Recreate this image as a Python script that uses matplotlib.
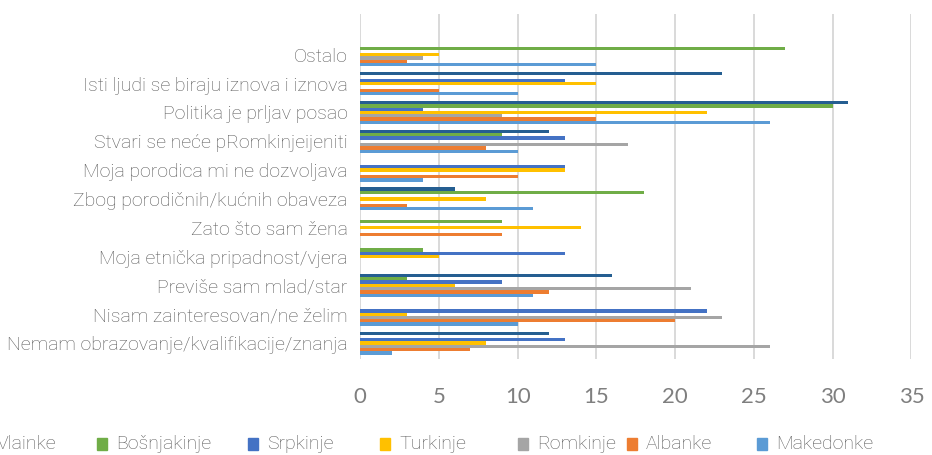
import matplotlib.pyplot as plt
import matplotlib.patches as mpatches
import numpy as np

# categories, top to bottom as shown
categories = [
    "Ostalo",
    "Isti ljudi se biraju iznova i iznova",
    "Politika je prljav posao",
    "Stvari se neće pRomkinjeijeniti",
    "Moja porodica mi ne dozvoljava",
    "Zbog porodičnih/kućnih obaveza",
    "Zato što sam žena",
    "Moja etnička pripadnost/vjera",
    "Previše sam mlad/star",
    "Nisam zainteresovan/ne želim",
    "Nemam obrazovanje/kvalifikacije/znanja",
]

series_names = ["Vlainke", "Bošnjakinje", "Srpkinje", "Turkinje",
                "Romkinje", "Albanke", "Makedonke"]

vlainke     = [0, 23, 31, 12, 0, 6, 0, 0, 16, 0, 12]
bosnjakinje = [27, 0, 30, 9, 0, 18, 9, 4, 3, 0, 0]
srpkinje    = [0, 13, 4, 13, 13, 0, 0, 13, 9, 22, 13]
turkinje    = [5, 15, 22, 0, 13, 8, 14, 5, 6, 3, 8]
romkinje    = [4, 0, 9, 17, 0, 0, 0, 0, 21, 23, 26]
albanke     = [3, 5, 15, 8, 10, 3, 9, 0, 12, 20, 7]
makedonke   = [15, 10, 26, 10, 4, 11, 0, 0, 11, 10, 2]

series = [vlainke, bosnjakinje, srpkinje, turkinje, romkinje, albanke, makedonke]
colors = ["#255E91", "#70AD47", "#4472C4", "#FFC000", "#A5A5A5", "#ED7D31", "#5B9BD5"]

label_font = "Roboto"
text_color = "#595959"

fig = plt.figure(figsize=(9.32, 4.55), dpi=100)
ax = fig.add_axes([0.3863, 0.2112, 0.5917, 0.7589])

n = len(categories)
ypos = np.arange(n)[::-1]  # Ostalo at top
h = 0.8 / len(series)
for j, (vals, c) in enumerate(zip(series, colors)):
    offset = (3 - j) * h
    ax.barh(ypos + offset, vals, height=h, color=c, zorder=3)

ax.set_xlim(0, 35)
ax.set_ylim(-0.55, 11.43)
ax.set_xticks(np.arange(0, 36, 5))
ax.set_yticks(ypos)
ax.set_yticklabels(categories, fontfamily=label_font, fontweight="light",
                   fontsize=14, color=text_color)
for lbl in ax.get_xticklabels():
    lbl.set_fontfamily("Lato")
    lbl.set_fontsize(16)
    lbl.set_color("#7f7f7f")
ax.tick_params(axis="x", length=0, pad=20)
ax.tick_params(axis="y", length=0, pad=9)
ax.grid(axis="x", color="#d9d9d9", linewidth=1.4, zorder=0)
for s in ax.spines.values():
    s.set_visible(False)

# legend row along the bottom, first entry runs off the left edge
sq_x = [-22, 97, 248, 380, 518, 627, 757]
W, H = 932, 455
ly = 444
for x, name, c in zip(sq_x, series_names, colors):
    fig.patches.append(mpatches.Rectangle(((x) / W, (H - ly - 6) / H), 10 / W, 12 / H,
                                          transform=fig.transFigure, color=c))
    fig.text((x + 19) / W, (H - ly) / H, name, fontfamily=label_font,
             fontweight="light", fontsize=14, color=text_color, va="center")

fig.savefig("out.png", dpi=100)
